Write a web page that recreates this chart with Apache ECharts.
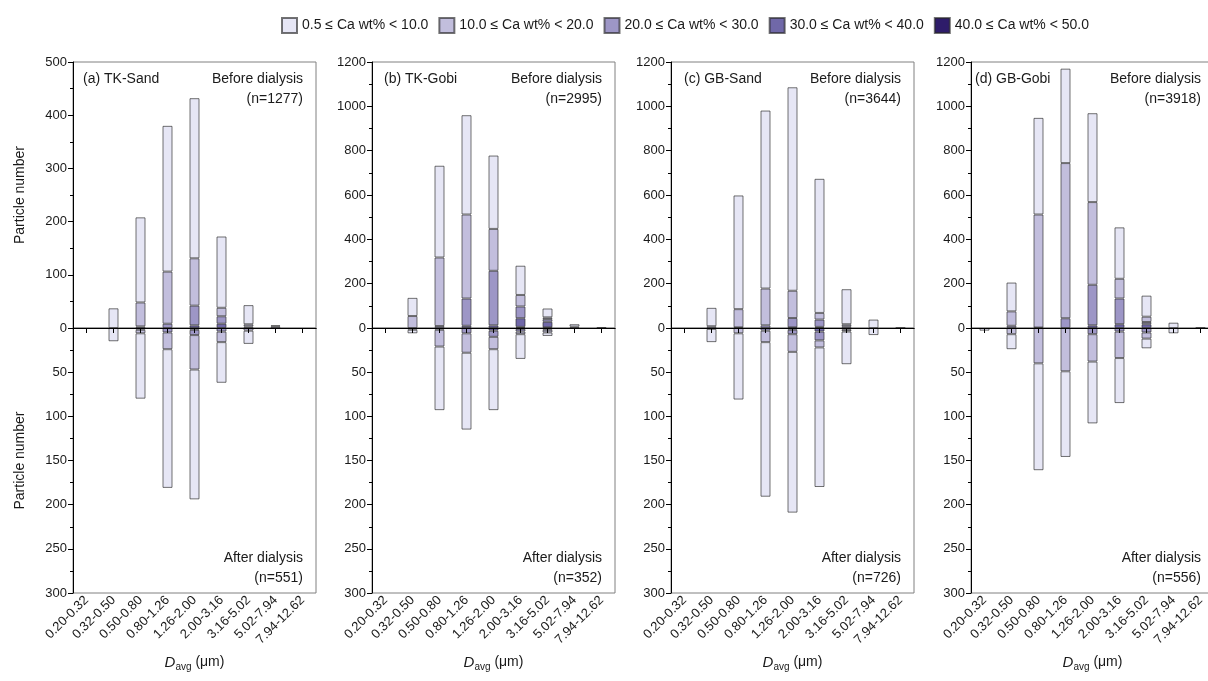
<!DOCTYPE html>
<html><head><meta charset="utf-8">
<script src="https://cdn.jsdelivr.net/npm/echarts@6/dist/echarts.min.js"></script>
<style>html,body{margin:0;padding:0;background:#fff}#c{width:1208px;height:681px}</style>
</head><body><div id="c"></div>
<script>
const categories = ['0.20-0.32','0.32-0.50','0.50-0.80','0.80-1.26','1.26-2.00','2.00-3.16','3.16-5.02','5.02-7.94','7.94-12.62'];
const classNames = ['0.5 ≤ Ca wt% < 10.0','10.0 ≤ Ca wt% < 20.0','20.0 ≤ Ca wt% < 30.0','30.0 ≤ Ca wt% < 40.0','40.0 ≤ Ca wt% < 50.0'];
const classColors = ['#e6e6f5','#c2bedd','#9d96c6','#7068a8','#2e1c6a'];
const panelTitles = ['(a) TK-Sand','(b) TK-Gobi','(c) GB-Sand','(d) GB-Gobi'];
const nBefore = [1277, 2995, 3644, 3918];
const nAfter = [551, 352, 726, 556];
const beforeMax = [500, 1200, 1200, 1200];
const beforeInterval = [100, 200, 200, 200];
const afterMax = 300;
const afterInterval = 50;

// rows: Ca classes (0.5-10, 10-20, 20-30, 30-40, 40-50); columns: size bins
const tkSandBefore = [
  [0,37,160,274,301,134,36,2,0],
  [0,0,45,98,89,16,4,3,0],
  [0,0,3,8,37,14,3,0,0],
  [0,0,0,0,5,8,0,0,0],
  [0,0,0,0,0,0,0,0,0]
];
const tkSandAfter = [
  [0,15,74,157,147,46,15,1,0],
  [0,0,4,19,39,12,3,0,0],
  [0,0,2,5,6,4,0,0,0],
  [0,0,0,0,2,0,0,0,0],
  [0,0,0,0,0,0,0,0,0]
];
const tkGobiBefore = [
  [0,82,414,448,331,132,40,11,3],
  [0,54,309,379,189,52,8,6,0],
  [0,0,9,123,246,53,12,0,0],
  [0,0,0,10,12,39,25,0,0],
  [0,0,0,0,0,5,3,0,0]
];
const tkGobiAfter = [
  [0,4,72,87,69,28,4,1,0],
  [0,2,19,22,14,3,3,0,0],
  [0,0,2,6,7,3,2,0,0],
  [0,0,0,0,3,1,0,0,0],
  [0,0,0,0,0,0,0,0,0]
];
const gbSandBefore = [
  [0,83,513,803,918,605,158,38,2],
  [0,8,82,166,123,30,9,0,0],
  [0,0,3,12,42,33,8,0,0],
  [0,0,0,0,3,5,0,0,0],
  [0,0,0,0,0,0,0,0,0]
];
const gbSandAfter = [
  [0,15,75,175,182,158,37,8,0],
  [0,1,6,13,20,8,2,0,0],
  [0,0,0,3,5,10,2,0,0],
  [0,0,0,0,2,4,0,0,0],
  [0,0,0,0,0,0,0,0,0]
];
const gbGobiBefore = [
  [0,130,436,426,401,232,95,24,2],
  [0,65,510,700,373,89,24,0,0],
  [0,10,2,44,183,116,10,0,0],
  [0,0,0,0,12,17,17,0,0],
  [0,0,0,0,0,0,0,0,0]
];
const gbGobiAfter = [
  [3,17,121,97,70,51,11,6,0],
  [0,7,40,49,31,30,7,0,0],
  [0,0,0,0,7,4,5,0,0],
  [0,0,0,0,0,0,0,0,0],
  [0,0,0,0,0,0,0,0,0]
];

const beforeData = [tkSandBefore, tkGobiBefore, gbSandBefore, gbGobiBefore];
const afterData = [tkSandAfter, tkGobiAfter, gbSandAfter, gbGobiAfter];

const panelLeft = [73, 372, 671, 971];
const panelW = 243;
const titleOffset = [10, 12, 13, 4];
const font = '"Liberation Sans", Arial, sans-serif';
const txt = '#1a1a1a';

const grids = [], xAxes = [], yAxes = [], series = [], graphics = [];
for (let p = 0; p < 4; p++) {
  const L = panelLeft[p];
  const gi = p * 2;
  grids.push({left: L, top: 62, width: panelW, height: 266, show: true, borderColor: '#808080', borderWidth: 1, containLabel: false, outerBoundsMode: 'none'});
  grids.push({left: L, top: 328, width: panelW, height: 265, show: true, borderColor: '#808080', borderWidth: 1, containLabel: false, outerBoundsMode: 'none'});

  xAxes.push({gridIndex: gi, type: 'category', data: categories, z: 10,
    axisLine: {lineStyle: {color: '#000', width: 1}}, axisTick: {show: false}, axisLabel: {show: false}, splitLine: {show: false}});
  xAxes.push({gridIndex: gi + 1, type: 'category', data: categories, position: 'bottom', z: 10,
    axisLine: {lineStyle: {color: '#000', width: 1}},
    axisTick: {show: true, alignWithLabel: true, length: 5, lineStyle: {color: '#000'}},
    axisLabel: {rotate: 45, fontSize: 13, color: txt, margin: 5, interval: 0, fontFamily: font},
    splitLine: {show: false},
    name: '{i|D}{s|avg}{n| (μm)}', nameLocation: 'middle', nameGap: 60,
    nameTextStyle: {fontFamily: font, color: txt, fontSize: 14,
      rich: {i: {fontStyle: 'italic', fontSize: 15, fontFamily: font, color: txt},
             s: {fontSize: 10, fontFamily: font, color: txt, padding: [9, 0, 0, 0]},
             n: {fontSize: 14, fontFamily: font, color: txt}}}});

  const yCommon = {
    axisLine: {show: true, lineStyle: {color: '#000', width: 1}},
    axisTick: {show: true, length: 5, lineStyle: {color: '#000'}},
    minorTick: {show: true, splitNumber: 2, length: 3, lineStyle: {color: '#000'}},
    splitLine: {show: false}, minorSplitLine: {show: false},
    nameLocation: 'middle', nameGap: 46,
    nameTextStyle: {fontSize: 14, color: txt, fontFamily: font}
  };
  const plain = v => String(v);
  yAxes.push(Object.assign({gridIndex: gi, type: 'value', min: 0, max: beforeMax[p], interval: beforeInterval[p],
    axisLabel: {fontSize: 13, color: txt, margin: 6, fontFamily: font, formatter: plain},
    name: p === 0 ? 'Particle number' : ''}, yCommon));
  yAxes.push(Object.assign({gridIndex: gi + 1, type: 'value', min: 0, max: afterMax, interval: afterInterval, inverse: true,
    axisLabel: {fontSize: 13, color: txt, margin: 6, fontFamily: font, showMinLabel: false, formatter: plain},
    name: p === 0 ? 'Particle number' : ''}, yCommon));

  [beforeData[p], afterData[p]].forEach((rows, h) => {
    for (let k = 4; k >= 0; k--) {
      series.push({type: 'bar', name: classNames[k], xAxisIndex: gi + h, yAxisIndex: gi + h,
        stack: 'p' + p + 'h' + h, barWidth: 10,
        data: rows[k].map(v => v === 0 ? '-' : v),
        itemStyle: {color: classColors[k], borderColor: 'rgba(40,40,40,0.65)', borderWidth: 1},
        emphasis: {disabled: true}});
    }
  });

  const R = L + panelW - 13;
  const f = '14px ' + font;
  graphics.push({type: 'text', x: L + titleOffset[p], y: 79, z: 100, style: {text: panelTitles[p], font: f, fill: txt, textAlign: 'left', textVerticalAlign: 'middle'}});
  graphics.push({type: 'text', x: R, y: 79, z: 100, style: {text: 'Before dialysis', font: f, fill: txt, textAlign: 'right', textVerticalAlign: 'middle'}});
  graphics.push({type: 'text', x: R, y: 99, z: 100, style: {text: '(n=' + nBefore[p] + ')', font: f, fill: txt, textAlign: 'right', textVerticalAlign: 'middle'}});
  graphics.push({type: 'text', x: R, y: 558, z: 100, style: {text: 'After dialysis', font: f, fill: txt, textAlign: 'right', textVerticalAlign: 'middle'}});
  graphics.push({type: 'text', x: R, y: 578, z: 100, style: {text: '(n=' + nAfter[p] + ')', font: f, fill: txt, textAlign: 'right', textVerticalAlign: 'middle'}});
}

const chart = echarts.init(document.getElementById('c'), null, {renderer: 'canvas'});
chart.setOption({
  animation: false,
  backgroundColor: '#fff',
  legend: {data: classNames, left: 276, top: 12, itemWidth: 15, itemHeight: 15, itemGap: 10, icon: 'rect',
    textStyle: {fontSize: 14, color: txt, fontFamily: font}},
  grid: grids, xAxis: xAxes, yAxis: yAxes, series: series, graphic: graphics
});
</script></body></html>
